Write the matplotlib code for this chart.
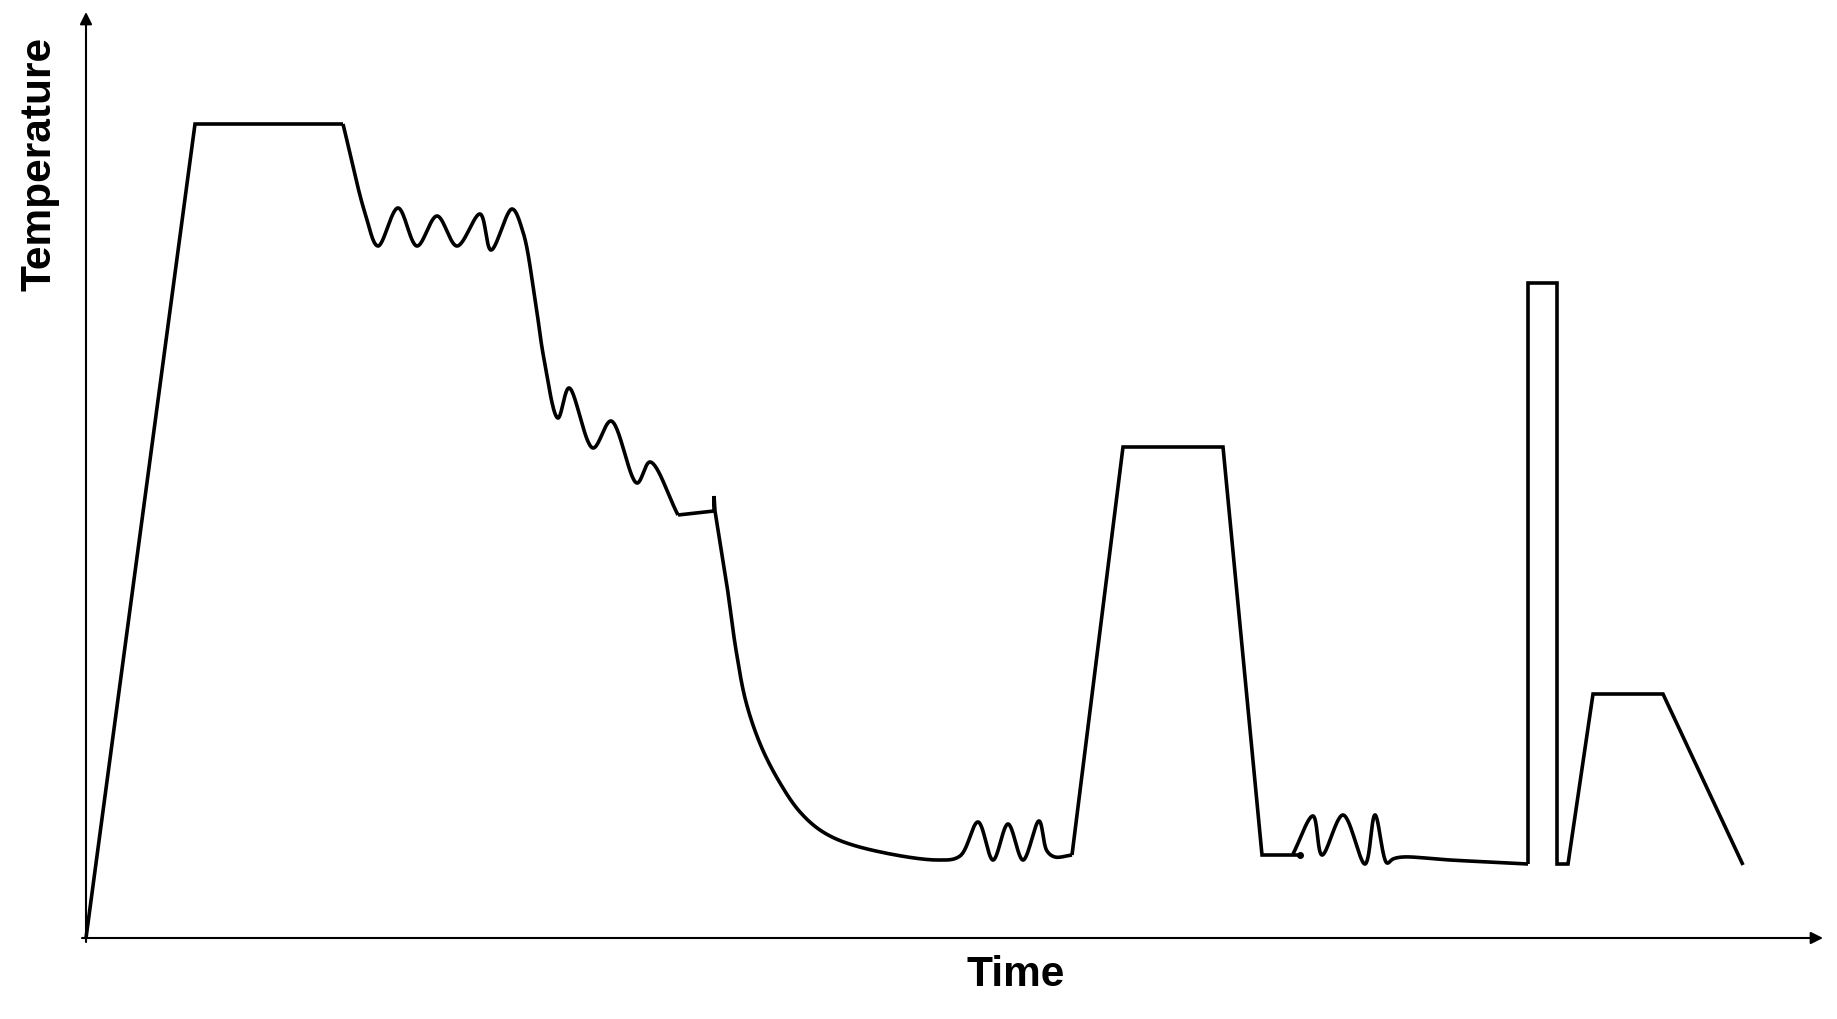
import numpy as np
import matplotlib.pyplot as plt

# temperature profile (arbitrary units, origin at the axes corner)
# straight pieces
heat_t = [0, 109, 257]
heat_T = [0, 814, 814]

# first cooling with oscillations (smooth)
cool1_t = [257, 279, 292, 312, 331, 351, 371, 394, 405, 426, 437, 449, 458,
           472, 483, 507, 525, 551, 564, 592]
cool1_T = [814, 725, 692, 730, 692, 722, 692, 724, 688, 729, 706, 639, 579,
           520, 550, 490, 517, 455, 476, 423]

# short hold with a little tick
hold_t = [592, 628, 628, 629]
hold_T = [423, 427, 442, 427]

# long cooling curve then small oscillations (smooth)
cool2_t = [629, 641, 650, 660, 675, 694, 714, 737, 770, 851, 874, 892, 907,
           922, 937, 953, 961, 969, 986]
cool2_T = [427, 352, 288, 236, 192, 155, 126, 106, 92, 78, 82, 116, 78,
           114, 78, 117, 87, 81, 83]

# second heating plateau
heat2_t = [986, 1037, 1137, 1176, 1214]
heat2_T = [83, 491, 491, 83, 83]

# oscillations after second cooling (smooth)
osc_t = [1207, 1227, 1236, 1257, 1279, 1289, 1301, 1307, 1317, 1364, 1442]
osc_T = [84, 122, 83, 123, 74, 123, 75, 79, 81, 78, 74]

# spike and final plateau
final_t = [1442, 1442, 1471, 1471, 1482, 1507, 1577, 1657]
final_T = [74, 655, 655, 74, 74, 244, 244, 73]


def smooth(t, T, n=30):
    # centripetal catmull-rom through the read points
    p = np.column_stack([t, T]).astype(float)
    p = np.vstack([2 * p[0] - p[1], p, 2 * p[-1] - p[-2]])
    out = []
    for i in range(1, len(p) - 2):
        p0, p1, p2, p3 = p[i - 1], p[i], p[i + 1], p[i + 2]
        t0 = 0.0
        t1 = t0 + np.linalg.norm(p1 - p0) ** 0.5
        t2 = t1 + np.linalg.norm(p2 - p1) ** 0.5
        t3 = t2 + np.linalg.norm(p3 - p2) ** 0.5
        s = np.linspace(t1, t2, n, endpoint=False)[:, None]
        a1 = (t1 - s) / (t1 - t0) * p0 + (s - t0) / (t1 - t0) * p1
        a2 = (t2 - s) / (t2 - t1) * p1 + (s - t1) / (t2 - t1) * p2
        a3 = (t3 - s) / (t3 - t2) * p2 + (s - t2) / (t3 - t2) * p3
        b1 = (t2 - s) / (t2 - t0) * a1 + (s - t0) / (t2 - t0) * a2
        b2 = (t3 - s) / (t3 - t1) * a2 + (s - t1) / (t3 - t1) * a3
        out.append((t2 - s) / (t2 - t1) * b1 + (s - t1) / (t2 - t1) * b2)
    out.append(p[-2][None])
    return np.vstack(out)


fig = plt.figure(figsize=(18.37, 10.20), dpi=100)
ax = fig.add_axes([0, 0, 1, 1])
ax.set_xlim(-86, 1751)
ax.set_ylim(-81, 939)
ax.axis('off')

lw = 2.6
kw = dict(color='black', lw=lw, solid_joinstyle='miter', solid_capstyle='butt')
ax.plot(heat_t, heat_T, **kw)
c = smooth(cool1_t, cool1_T)
ax.plot(c[:, 0], c[:, 1], **kw)
ax.plot(hold_t, hold_T, **kw)
c = smooth(cool2_t, cool2_T)
ax.plot(c[:, 0], c[:, 1], **kw)
ax.plot(heat2_t, heat2_T, **kw)
c = smooth(osc_t, osc_T)
ax.plot(c[:, 0], c[:, 1], **kw)
ax.plot(final_t, final_T, **kw)
ax.plot([heat2_t[-1]], [heat2_T[-1]], 'o', color='black', ms=4)

# axes with arrow heads
ax.annotate('', xy=(1737, 0), xytext=(-4, 0),
            arrowprops=dict(arrowstyle='-|>', color='black', lw=1.5,
                            mutation_scale=18, shrinkA=0, shrinkB=0))
ax.annotate('', xy=(0, 926), xytext=(0, -4),
            arrowprops=dict(arrowstyle='-|>', color='black', lw=1.5,
                            mutation_scale=18, shrinkA=0, shrinkB=0))

font = ['Liberation Sans', 'DejaVu Sans']
ax.text(930, -36, 'Time', ha='center', va='center', fontsize=30.5,
        fontweight='bold', family=font)
ax.text(-47, 775, 'Temperature', ha='center', va='center', fontsize=30.5,
        fontweight='bold', rotation=90, family=font)

fig.savefig('out.png', dpi=100)
